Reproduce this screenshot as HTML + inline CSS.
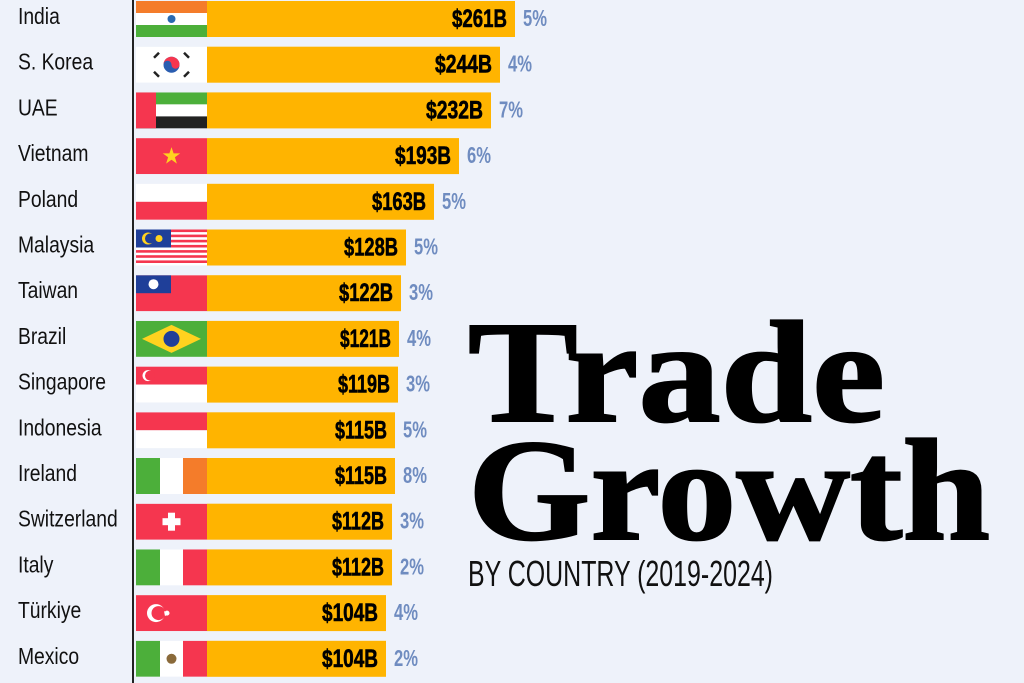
<!DOCTYPE html>
<html><head><meta charset="utf-8"><style>
html,body{margin:0;padding:0;background:#eef2fa;}
svg{display:block}
.n{font-family:"Liberation Sans",sans-serif;font-size:23px;fill:#111}
.v{font-family:"Liberation Sans",sans-serif;font-weight:bold;font-size:25px;fill:#000}
.p{font-family:"Liberation Sans",sans-serif;font-weight:bold;font-size:23px;fill:#6f8cc0}
</style></head><body>
<svg width="1024" height="683" viewBox="0 0 1024 683" xmlns="http://www.w3.org/2000/svg">
<rect width="1024" height="683" fill="#eef2fa"/>
<line x1="133" y1="0" x2="133" y2="683" stroke="#222" stroke-width="2"/>

<g fill="#ffb400">
<rect x="207" y="1" width="308" height="36"/>
<rect x="207" y="46.7" width="293" height="36"/>
<rect x="207" y="92.4" width="284" height="36"/>
<rect x="207" y="138.1" width="252" height="36"/>
<rect x="207" y="183.8" width="227" height="36"/>
<rect x="207" y="229.5" width="199" height="36"/>
<rect x="207" y="275.2" width="194" height="36"/>
<rect x="207" y="320.9" width="192" height="36"/>
<rect x="207" y="366.6" width="191" height="36"/>
<rect x="207" y="412.3" width="188" height="36"/>
<rect x="207" y="458" width="188" height="36"/>
<rect x="207" y="503.7" width="185" height="36"/>
<rect x="207" y="549.4" width="185" height="36"/>
<rect x="207" y="595.1" width="179" height="36"/>
<rect x="207" y="640.8" width="179" height="36"/>
</g>

<svg x="136" y="1" width="71" height="36" viewBox="0 0 71 36"><rect width="71" height="12" fill="#f47c2a"/><rect y="12" width="71" height="12" fill="#fff"/><rect y="24" width="71" height="12" fill="#4caf3a"/><circle cx="35.5" cy="18" r="4" fill="#2a6ab0"/></svg>
<svg x="136" y="46.7" width="71" height="36" viewBox="0 0 71 36"><rect width="71" height="36" fill="#fff"/><circle cx="35.5" cy="18" r="8" fill="#2a5db0"/><path d="M27.5 18a8 8 0 0 1 16 0a4 4 0 0 1-8 0a4 4 0 0 0-8 0z" fill="#f5364f"/><g stroke="#222" stroke-width="2.5"><line x1="18" y1="11" x2="23" y2="6"/><line x1="48" y1="6" x2="53" y2="11"/><line x1="18" y1="25" x2="23" y2="30"/><line x1="48" y1="30" x2="53" y2="25"/></g></svg>
<svg x="136" y="92.4" width="71" height="36" viewBox="0 0 71 36"><rect width="71" height="12" fill="#4caf3a"/><rect y="12" width="71" height="12" fill="#fff"/><rect y="24" width="71" height="12" fill="#222"/><rect width="20" height="36" fill="#f5364f"/></svg>
<svg x="136" y="138.1" width="71" height="36" viewBox="0 0 71 36"><rect width="71" height="36" fill="#f5364f"/><polygon points="35.5,9 37.6,15.3 44.2,15.3 38.9,19.2 40.9,25.5 35.5,21.6 30.1,25.5 32.1,19.2 26.8,15.3 33.4,15.3" fill="#ffd21f"/></svg>
<svg x="136" y="183.8" width="71" height="36" viewBox="0 0 71 36"><rect width="71" height="18" fill="#fff"/><rect y="18" width="71" height="18" fill="#f5364f"/></svg>
<svg x="136" y="229.5" width="71" height="36" viewBox="0 0 71 36"><rect width="71" height="36" fill="#fff"/><g fill="#f5364f"><rect y="0" width="71" height="2.6"/><rect y="5.1" width="71" height="2.6"/><rect y="10.3" width="71" height="2.6"/><rect y="15.4" width="71" height="2.6"/><rect y="20.6" width="71" height="2.6"/><rect y="25.7" width="71" height="2.6"/><rect y="30.9" width="71" height="2.6"/></g><rect width="35" height="18" fill="#1f3f99"/><circle cx="12" cy="9" r="6" fill="#ffd21f"/><circle cx="14" cy="9" r="5" fill="#1f3f99"/><circle cx="23" cy="9" r="3.5" fill="#ffd21f"/></svg>
<svg x="136" y="275.2" width="71" height="36" viewBox="0 0 71 36"><rect width="71" height="36" fill="#f5364f"/><rect width="35" height="18" fill="#1f3f99"/><circle cx="17.5" cy="9" r="5" fill="#fff"/></svg>
<svg x="136" y="320.9" width="71" height="36" viewBox="0 0 71 36"><rect width="71" height="36" fill="#4caf3a"/><polygon points="35.5,4 65,18 35.5,32 6,18" fill="#ffd21f"/><circle cx="35.5" cy="18" r="8" fill="#1f3f99"/></svg>
<svg x="136" y="366.6" width="71" height="36" viewBox="0 0 71 36"><rect width="71" height="18" fill="#f5364f"/><rect y="18" width="71" height="18" fill="#fff"/><circle cx="12" cy="9" r="5.5" fill="#fff"/><circle cx="14" cy="9" r="5" fill="#f5364f"/></svg>
<svg x="136" y="412.3" width="71" height="36" viewBox="0 0 71 36"><rect width="71" height="18" fill="#f5364f"/><rect y="18" width="71" height="18" fill="#fff"/></svg>
<svg x="136" y="458" width="71" height="36" viewBox="0 0 71 36"><rect width="24" height="36" fill="#4caf3a"/><rect x="24" width="23" height="36" fill="#fff"/><rect x="47" width="24" height="36" fill="#f47c2a"/></svg>
<svg x="136" y="503.7" width="71" height="36" viewBox="0 0 71 36"><rect width="71" height="36" fill="#f5364f"/><rect x="32" y="9" width="7" height="18" fill="#fff"/><rect x="26.5" y="14.5" width="18" height="7" fill="#fff"/></svg>
<svg x="136" y="549.4" width="71" height="36" viewBox="0 0 71 36"><rect width="24" height="36" fill="#4caf3a"/><rect x="24" width="23" height="36" fill="#fff"/><rect x="47" width="24" height="36" fill="#f5364f"/></svg>
<svg x="136" y="595.1" width="71" height="36" viewBox="0 0 71 36"><rect width="71" height="36" fill="#f5364f"/><circle cx="20" cy="18" r="9" fill="#fff"/><circle cx="22.5" cy="18" r="7" fill="#f5364f"/><polygon points="33,18 28,16 29,21" fill="#fff"/><circle cx="31" cy="18" r="2.5" fill="#fff"/></svg>
<svg x="136" y="640.8" width="71" height="36" viewBox="0 0 71 36"><rect width="24" height="36" fill="#4caf3a"/><rect x="24" width="23" height="36" fill="#fff"/><rect x="47" width="24" height="36" fill="#f5364f"/><circle cx="35.5" cy="18" r="5" fill="#8a6a3a"/></svg>

<g class="n" transform="scale(0.84,1)">
<text x="21.4" y="24">India</text>
<text x="21.4" y="69.7">S. Korea</text>
<text x="21.4" y="115.4">UAE</text>
<text x="21.4" y="161.1">Vietnam</text>
<text x="21.4" y="206.8">Poland</text>
<text x="21.4" y="252.5">Malaysia</text>
<text x="21.4" y="298.2">Taiwan</text>
<text x="21.4" y="343.9">Brazil</text>
<text x="21.4" y="389.6">Singapore</text>
<text x="21.4" y="435.3">Indonesia</text>
<text x="21.4" y="481">Ireland</text>
<text x="21.4" y="526.7">Switzerland</text>
<text x="21.4" y="572.4">Italy</text>
<text x="21.4" y="618.1">Türkiye</text>
<text x="21.4" y="663.8">Mexico</text>
</g>

<g class="v" text-anchor="end" stroke="#000" stroke-width="0.6">
<text x="507" y="27" textLength="55" lengthAdjust="spacingAndGlyphs">$261B</text>
<text x="492" y="72.7" textLength="57" lengthAdjust="spacingAndGlyphs">$244B</text>
<text x="483" y="118.4" textLength="57" lengthAdjust="spacingAndGlyphs">$232B</text>
<text x="451" y="164.1" textLength="56" lengthAdjust="spacingAndGlyphs">$193B</text>
<text x="426" y="209.8" textLength="54" lengthAdjust="spacingAndGlyphs">$163B</text>
<text x="398" y="255.5" textLength="54" lengthAdjust="spacingAndGlyphs">$128B</text>
<text x="393" y="301.2" textLength="54" lengthAdjust="spacingAndGlyphs">$122B</text>
<text x="391" y="346.9" textLength="51" lengthAdjust="spacingAndGlyphs">$121B</text>
<text x="390" y="392.6" textLength="52" lengthAdjust="spacingAndGlyphs">$119B</text>
<text x="387" y="438.3" textLength="52" lengthAdjust="spacingAndGlyphs">$115B</text>
<text x="387" y="484" textLength="52" lengthAdjust="spacingAndGlyphs">$115B</text>
<text x="384" y="529.7" textLength="52" lengthAdjust="spacingAndGlyphs">$112B</text>
<text x="384" y="575.4" textLength="52" lengthAdjust="spacingAndGlyphs">$112B</text>
<text x="378" y="621.1" textLength="56" lengthAdjust="spacingAndGlyphs">$104B</text>
<text x="378" y="666.8" textLength="56" lengthAdjust="spacingAndGlyphs">$104B</text>
</g>

<g class="p">
<text x="523" y="26" textLength="24" lengthAdjust="spacingAndGlyphs">5%</text>
<text x="508" y="71.7" textLength="24" lengthAdjust="spacingAndGlyphs">4%</text>
<text x="499" y="117.4" textLength="24" lengthAdjust="spacingAndGlyphs">7%</text>
<text x="467" y="163.1" textLength="24" lengthAdjust="spacingAndGlyphs">6%</text>
<text x="442" y="208.8" textLength="24" lengthAdjust="spacingAndGlyphs">5%</text>
<text x="414" y="254.5" textLength="24" lengthAdjust="spacingAndGlyphs">5%</text>
<text x="409" y="300.2" textLength="24" lengthAdjust="spacingAndGlyphs">3%</text>
<text x="407" y="345.9" textLength="24" lengthAdjust="spacingAndGlyphs">4%</text>
<text x="406" y="391.6" textLength="24" lengthAdjust="spacingAndGlyphs">3%</text>
<text x="403" y="437.3" textLength="24" lengthAdjust="spacingAndGlyphs">5%</text>
<text x="403" y="483" textLength="24" lengthAdjust="spacingAndGlyphs">8%</text>
<text x="400" y="528.7" textLength="24" lengthAdjust="spacingAndGlyphs">3%</text>
<text x="400" y="574.4" textLength="24" lengthAdjust="spacingAndGlyphs">2%</text>
<text x="394" y="620.1" textLength="24" lengthAdjust="spacingAndGlyphs">4%</text>
<text x="394" y="665.8" textLength="24" lengthAdjust="spacingAndGlyphs">2%</text>
</g>

<g font-family="Liberation Serif,serif" font-weight="bold" font-size="145" fill="#000" stroke="#000" stroke-width="2">
<text x="468" y="421" textLength="417" lengthAdjust="spacingAndGlyphs">Trade</text>
<text x="468" y="539" textLength="522" lengthAdjust="spacingAndGlyphs">Growth</text>
</g>
<text x="468" y="586" font-family="Liberation Sans,sans-serif" font-size="36" fill="#111" textLength="305" lengthAdjust="spacingAndGlyphs">BY COUNTRY (2019-2024)</text>
</svg>
</body></html>
